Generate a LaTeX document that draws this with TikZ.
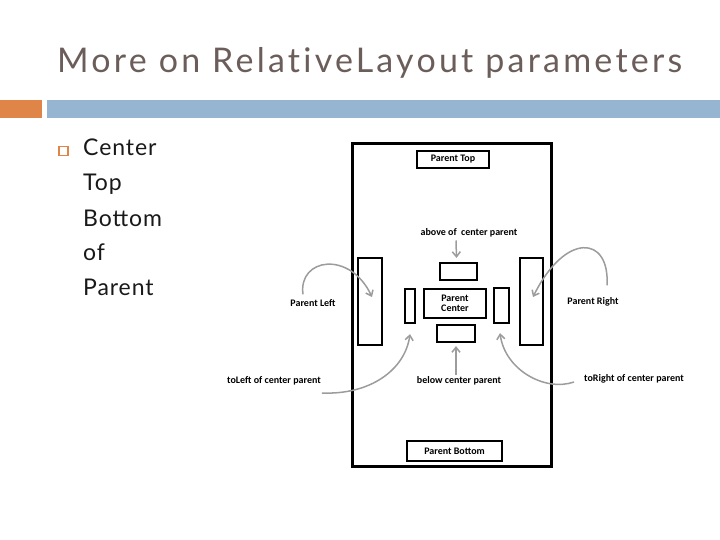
\documentclass[tikz,border=0pt]{standalone}
\usepackage{fontspec}
\setmainfont{Lato}
\newfontfamily\diagfont{Carlito}
\usetikzlibrary{arrows.meta}
\definecolor{titlecol}{HTML}{6B5D59}
\definecolor{orangebar}{HTML}{DF8548}
\definecolor{bluebar}{HTML}{95B5D1}
\definecolor{arrowgray}{HTML}{9C9C9C}
\tikzset{
  box/.style={draw=black, line width=2.2pt, minimum width=#1, inner sep=0pt},
  lbl/.style={font=\diagfont\bfseries\fontsize{10}{11}\selectfont, inner sep=0pt, align=center},
  garrow/.style={draw=arrowgray, line width=1.5pt, -{Straight Barb[length=5pt,width=8pt]}},
  bodytext/.style={font=\fontsize{23}{28}\selectfont\addfontfeature{LetterSpace=4}, text=black!90, anchor=base west, inner sep=0pt}
}
\begin{document}
\begin{tikzpicture}[x=1pt,y=-1pt]
\useasboundingbox (0,0) rectangle (720,540);
% title
\node[anchor=base west, inner sep=0pt, text=titlecol, font=\fontsize{34}{40}\selectfont\addfontfeature{LetterSpace=9.5,Ligatures=NoCommon}] (title) at (57,73) {More on RelativeLayout parameters};
% bars
\fill[orangebar] (0,100) rectangle (42,118);
\fill[bluebar] (47,100) rectangle (720,118);
% bullet
\node[draw=orangebar, line width=1.3pt, minimum size=9pt, inner sep=0pt] (bullet) at (63.5,151) {};
\node[bodytext] (b1) at (83,156) {Center};
\node[bodytext] (b2) at (83,191) {Top};
\node[bodytext] (b3) at (83,226) {Bottom};
\node[bodytext] (b4) at (83,260) {of};
\node[bodytext] (b5) at (83,295) {Parent};
% outer parent
\node[box=199pt, minimum height=323pt, line width=2.6pt] (outer) at (452,305) {};
% boxes
\node[box=72pt, minimum height=17pt, lbl] (ptop) at (453,159.5) {Parent Top};
\node[box=37pt, minimum height=17pt] (above) at (458.5,271.5) {};
\node[box=62pt, minimum height=29pt, lbl] (center) at (455,303.5) {Parent\\[-1pt]Center};
\node[box=10pt, minimum height=34pt] (tlbox) at (410,306) {};
\node[box=15pt, minimum height=35pt] (trbox) at (501.5,305.5) {};
\node[box=24pt, minimum height=87pt] (pl) at (370,301.5) {};
\node[box=23pt, minimum height=87pt] (pr) at (531.5,301.5) {};
\node[box=38pt, minimum height=17pt] (below) at (456,333.5) {};
\node[box=95pt, minimum height=20pt, lbl] (pbottom) at (454.5,451) {Parent Bottom};
% labels
\node[lbl] (abovelbl) at (469,233) {above of\ \ center parent};
\node[lbl] (belowlbl) at (459,381) {below center parent};
\node[lbl] (pleftlbl) at (313,303) {Parent Left};
\node[lbl] (prightlbl) at (593,302) {Parent Right};
\node[lbl] (tolefttlbl) at (274,381) {toLeft of center parent};
\node[lbl] (torightlbl) at (634,379) {toRight of center parent};
% arrows (xshift/yshift are in page directions: +y is up)
\draw[garrow] ([xshift=-13pt,yshift=-3pt]abovelbl.south) -- ([xshift=-2pt,yshift=4pt]above.north);
\draw[garrow] ([xshift=-3pt,yshift=2pt]belowlbl.north) -- ([yshift=-3pt]below.south);
\draw[garrow] ([xshift=-10pt,yshift=5pt]pleftlbl.north) .. controls (298,258) and (350,250) .. ([xshift=2pt,yshift=4.5pt]pl.center);
\draw[garrow] ([xshift=14pt,yshift=12pt]prightlbl.north) .. controls (610,235) and (565,232) .. ([xshift=1.5pt,yshift=4.5pt]pr.center);
\draw[garrow] ([xshift=1pt,yshift=-12pt]tolefttlbl.east) .. controls (370,395) and (405,370) .. ([yshift=-10pt]tlbox.south);
\draw[garrow] ([xshift=-10pt,yshift=-3pt]torightlbl.west) .. controls (545,392) and (505,370) .. ([xshift=-1.5pt,yshift=-9pt]trbox.south);
\end{tikzpicture}
\end{document}
